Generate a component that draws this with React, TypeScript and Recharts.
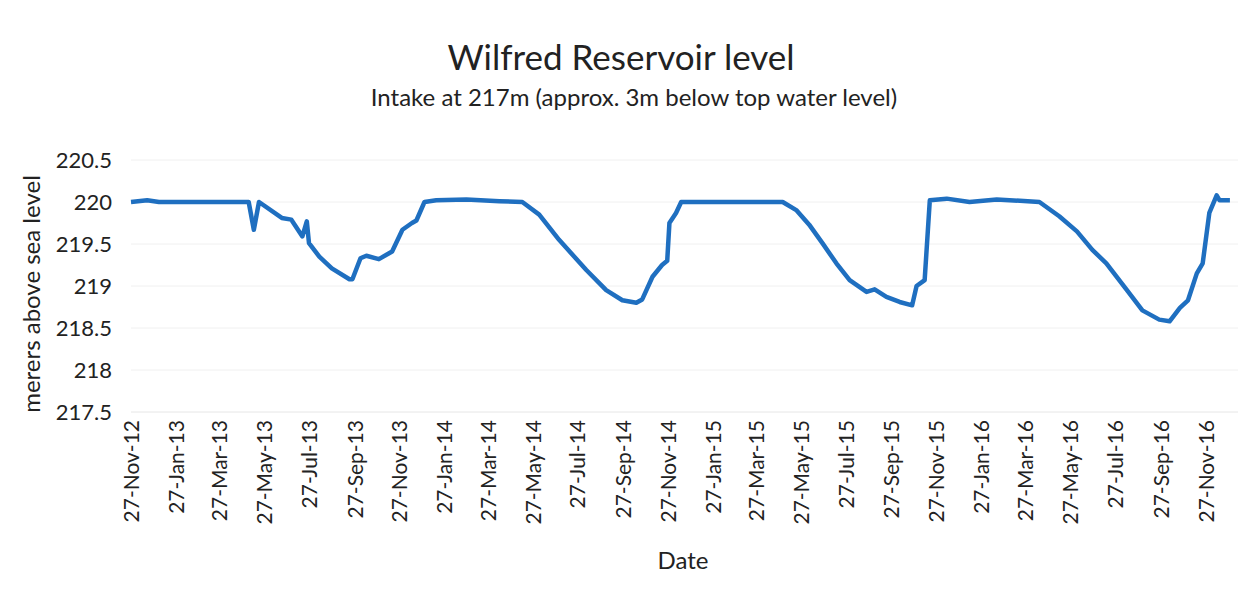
import React from "react";
import { LineChart, Line, XAxis, YAxis, CartesianGrid } from "recharts";

const title = "Wilfred Reservoir level";
const subtitle = "Intake at 217m (approx. 3m below top water level)";
const yAxisTitle = "merers above sea level";
const xAxisTitle = "Date";

const startDate = "2012-11-27";
const endDate = "2017-01-10";

const dates = [
  "2012-11-27", "2012-12-19", "2013-01-04", "2013-05-06", "2013-05-13", "2013-05-20",
  "2013-06-20", "2013-07-03", "2013-07-18", "2013-07-24", "2013-07-27", "2013-08-10",
  "2013-08-27", "2013-09-20", "2013-09-24", "2013-10-05", "2013-10-13", "2013-10-30",
  "2013-11-17", "2013-12-01", "2013-12-14", "2013-12-20", "2013-12-31", "2014-01-16",
  "2014-02-26", "2014-04-12", "2014-05-13", "2014-06-05", "2014-07-02", "2014-08-08",
  "2014-09-04", "2014-09-26", "2014-10-15", "2014-10-23", "2014-11-06", "2014-11-19",
  "2014-11-26", "2014-11-29", "2014-12-08", "2014-12-15", "2015-05-02", "2015-05-21",
  "2015-06-07", "2015-06-25", "2015-07-14", "2015-08-01", "2015-08-24", "2015-09-04",
  "2015-09-20", "2015-10-08", "2015-10-25", "2015-10-31", "2015-11-11", "2015-11-18",
  "2015-12-11", "2016-01-11", "2016-02-17", "2016-04-15", "2016-05-12", "2016-06-05",
  "2016-06-26", "2016-07-15", "2016-08-12", "2016-09-02", "2016-09-25", "2016-10-09",
  "2016-10-23", "2016-11-03", "2016-11-15", "2016-11-23", "2016-12-02", "2016-12-12",
  "2016-12-16", "2016-12-30",
];

const levels = [
  220.0, 220.02, 220.0, 220.0, 219.67, 220.0,
  219.81, 219.79, 219.59, 219.77, 219.51, 219.35,
  219.21, 219.08, 219.08, 219.33, 219.36, 219.32,
  219.41, 219.67, 219.75, 219.78, 220.0, 220.02,
  220.03, 220.01, 220.0, 219.85, 219.55, 219.19,
  218.95, 218.83, 218.8, 218.84, 219.11, 219.25,
  219.3, 219.75, 219.87, 220.0, 220.0, 219.9,
  219.73, 219.51, 219.27, 219.07, 218.93, 218.96,
  218.87, 218.81, 218.77, 219.0, 219.07, 220.02,
  220.04, 220.0, 220.03, 220.0, 219.83, 219.65,
  219.43, 219.27, 218.95, 218.71, 218.6, 218.58,
  218.74, 218.83, 219.15, 219.27, 219.87, 220.08,
  220.02, 220.02,
];

const tickDates = [
  "2012-11-27", "2013-01-27", "2013-03-27", "2013-05-27", "2013-07-27", "2013-09-27",
  "2013-11-27", "2014-01-27", "2014-03-27", "2014-05-27", "2014-07-27", "2014-09-27",
  "2014-11-27", "2015-01-27", "2015-03-27", "2015-05-27", "2015-07-27", "2015-09-27",
  "2015-11-27", "2016-01-27", "2016-03-27", "2016-05-27", "2016-07-27", "2016-09-27",
  "2016-11-27",
];

const tickLabels = [
  "27-Nov-12", "27-Jan-13", "27-Mar-13", "27-May-13", "27-Jul-13", "27-Sep-13",
  "27-Nov-13", "27-Jan-14", "27-Mar-14", "27-May-14", "27-Jul-14", "27-Sep-14",
  "27-Nov-14", "27-Jan-15", "27-Mar-15", "27-May-15", "27-Jul-15", "27-Sep-15",
  "27-Nov-15", "27-Jan-16", "27-Mar-16", "27-May-16", "27-Jul-16", "27-Sep-16",
  "27-Nov-16",
];

const yTicks = [217.5, 218, 218.5, 219, 219.5, 220, 220.5];

const DAY = 86400000;
const toDay = (d: string) => (Date.parse(d) - Date.parse(startDate)) / DAY;

const data = dates.map((d, i) => ({ t: toDay(d), level: levels[i] }));
const xTicks = tickDates.map(toDay);
const labelFor = (v: number) => {
  const i = xTicks.indexOf(v);
  return i >= 0 ? tickLabels[i] : "";
};

const FONT = "Lato, 'Open Sans', sans-serif";
const W = 1242;
const H = 583;

export default function App() {
  return (
    <div style={{ position: "relative", width: W, height: H, fontFamily: FONT }}>
      <LineChart
        width={W}
        height={H}
        data={data}
        margin={{ top: 152, right: 12, left: 0, bottom: 0 }}
      >
        <CartesianGrid vertical={false} stroke="#f0f0f0" strokeWidth={1} />
        <XAxis
          dataKey="t"
          type="number"
          domain={[0, toDay(endDate)]}
          ticks={xTicks}
          tickFormatter={labelFor}
          interval={0}
          angle={-90}
          textAnchor="end"
          height={179}
          tickSize={0}
          tickMargin={8}
          axisLine={{ stroke: "#eeeeee" }}
          tick={{ fill: "#222", fontSize: 21, fontFamily: FONT, dx: -7 }}
        />
        <YAxis
          type="number"
          domain={[217.5, 220.5]}
          ticks={yTicks}
          width={123}
          axisLine={false}
          tickLine={false}
          tickSize={0}
          tickMargin={19}
          tick={{ fill: "#222", fontSize: 22, fontFamily: FONT }}
        />
        <Line
          type="linear"
          dataKey="level"
          stroke="#1f6fc0"
          strokeWidth={4.5}
          dot={false}
          isAnimationActive={false}
          strokeLinejoin="round"
        />
      </LineChart>
      <svg
        width={W}
        height={H}
        style={{ position: "absolute", left: 0, top: 0, pointerEvents: "none" }}
      >
        <text x={613} y={62} textAnchor="middle" fontSize={35} fill="#222" fontFamily={FONT}>
          {title}
        </text>
        <text x={626} y={98} textAnchor="middle" fontSize={24} fill="#222" fontFamily={FONT}>
          {subtitle}
        </text>
        <text
          x={0}
          y={0}
          transform="translate(32, 286) rotate(-90)"
          textAnchor="middle"
          fontSize={24}
          fill="#222"
          fontFamily={FONT}
        >
          {yAxisTitle}
        </text>
        <text x={675} y={561} textAnchor="middle" fontSize={24} fill="#222" fontFamily={FONT}>
          {xAxisTitle}
        </text>
      </svg>
    </div>
  );
}
